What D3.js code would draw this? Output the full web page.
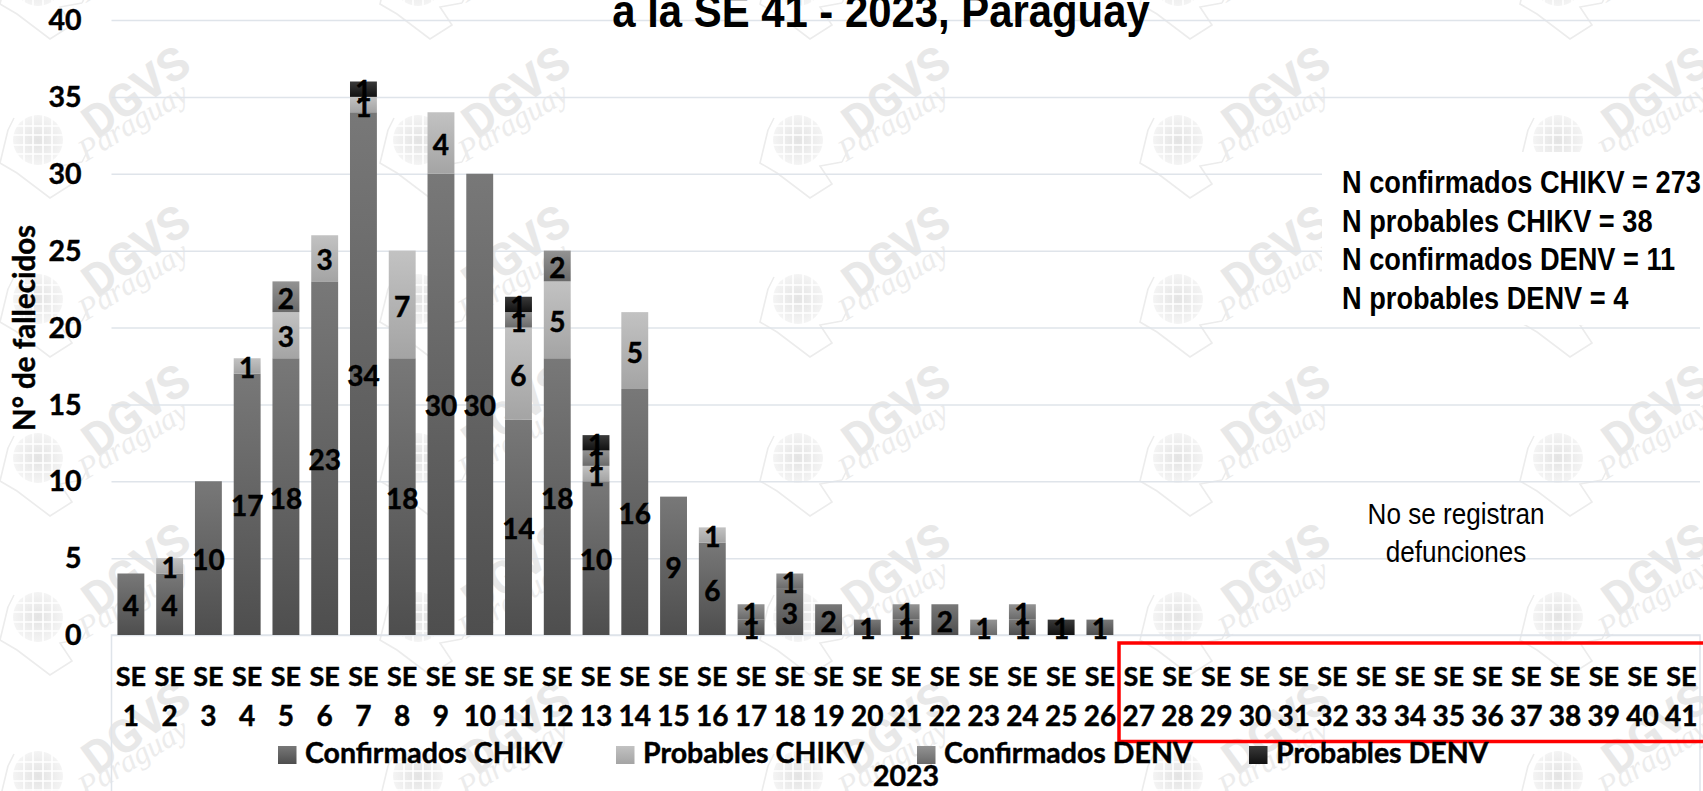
<!Doctype html>
<html>
<head>
  <meta charset="utf-8">
  <title>fallecidos CHIKV DENV</title>
  <script src="https://cdn.jsdelivr.net/npm/d3@7"></script>
  <style>
    html,body{ margin:0; padding:0; background:#fff; overflow:hidden; }
    svg{ display:block; }
    text{ font-family:Lato,sans-serif; font-weight:700; fill:#000; }
    .heavy{ stroke:#000; stroke-width:0.45px; }
    .narrow{ font-family:"Liberation Sans",sans-serif; }
    .domain{ display:none; }
  </style>
</head>
<body>
  <div id="container"></div>
<script>
  // values, SE 1 to SE 41
  var weeks = d3.range(1,42).map(function(d){ return String(d); });
  var confChikv = [4,4,10,17,18,23,34,18,30,30,14,18,10,16,9,6,1,3,2,1,1,2,0,1,0,1,0,0,0,0,0,0,0,0,0,0,0,0,0,0,0];
  var probChikv = [0,1,0,1,3,3,1,7,4,0,6,5,1,5,0,1,0,0,0,0,0,0,0,0,0,0,0,0,0,0,0,0,0,0,0,0,0,0,0,0,0];
  var confDenv  = [0,0,0,0,2,0,0,0,0,0,1,2,1,0,0,0,1,1,0,0,1,0,1,1,0,0,0,0,0,0,0,0,0,0,0,0,0,0,0,0,0];
  var probDenv  = [0,0,0,0,0,0,1,0,0,0,1,0,1,0,0,0,0,0,0,0,0,0,0,0,1,0,0,0,0,0,0,0,0,0,0,0,0,0,0,0,0];

  var seriesNames = ["Confirmados CHIKV","Probables CHIKV","Confirmados DENV","Probables DENV"];
  var seriesValues = [confChikv,probChikv,confDenv,probDenv];
  var seriesTop = ["#787878","#c2c2c2","#939393","#3a3a3a"];
  var seriesBottom = ["#4e4e4e","#a4a4a4","#6a6a6a","#111111"];
  var legendX = [278,616,917,1249];
  var yTicks = [0,5,10,15,20,25,30,35,40];
  var totals = ["N confirmados CHIKV = 273","N probables CHIKV = 38","N confirmados DENV = 11","N probables DENV = 4"];
  var totalsY = [193,232,270,309];

  var width = 1703, height = 791;

  var svg = d3.select("#container").append("svg")
      .attr("width", width)
      .attr("height", height);

  var defs = svg.append("defs");
  seriesNames.forEach(function(name,i){
    var g = defs.append("linearGradient").attr("id","grad"+i)
        .attr("x1",0).attr("y1",0).attr("x2",0).attr("y2",1);
    g.append("stop").attr("offset","0%").attr("stop-color",seriesTop[i]);
    g.append("stop").attr("offset","100%").attr("stop-color",seriesBottom[i]);
  });
  var globeGrad = defs.append("radialGradient").attr("id","globe");
  globeGrad.append("stop").attr("offset","0%").attr("stop-color","#e3e3e3");
  globeGrad.append("stop").attr("offset","100%").attr("stop-color","#f4f4f4");

  var xScale = d3.scaleBand().domain(weeks).range([111.5,1700.7]).paddingInner(0.306).paddingOuter(0.153);
  var yScale = d3.scaleLinear().domain([0,40]).range([635,20]);

  //----------------watermark
  var wm = svg.append("g").attr("id","watermark");
  d3.range(-1,5).forEach(function(row){
    d3.range(0,5).forEach(function(col){
      var t = wm.append("g").attr("transform","translate("+(col*380)+","+(row*159)+")");
      t.append("path")
        .attr("d","M8 130 L0 163 L17 173 L50 198 L72 184 L60 166 L82 162 M8 130 L14 118 M82 162 L88 150")
        .attr("fill","none").attr("stroke","#ececec").attr("stroke-width",1.6);
      t.append("circle").attr("cx",38).attr("cy",140).attr("r",25).attr("fill","url(#globe)");
      [-14,-5,5,14].forEach(function(o){
        t.append("line").attr("x1",13).attr("x2",63).attr("y1",140+o).attr("y2",140+o).attr("stroke","#fff").attr("stroke-width",1.6);
        t.append("line").attr("y1",115).attr("y2",165).attr("x1",38+o).attr("x2",38+o).attr("stroke","#fff").attr("stroke-width",1.6);
      });
      t.append("text").attr("transform","translate(97,140) rotate(-36)")
        .style("font-size","46px").style("font-family","Roboto,sans-serif").style("font-weight","700").style("fill","#e8e8e8")
        .text("DGVS");
      t.append("text").attr("transform","translate(86,162) rotate(-31)")
        .style("font-size","31px").style("font-family","'Liberation Serif',serif").style("font-style","italic").style("font-weight","400").style("fill","#ececec")
        .text("Paraguay");
    });
  });

  //----------------grid, y axis
  var yAxis = d3.axisLeft(yScale).tickValues(yTicks).tickSize(-(1700-111.5)).tickPadding(30);
  var YaxisGroup = svg.append("g").attr("class","y-ax").attr("transform","translate(111.5,0)").call(yAxis);
  YaxisGroup.selectAll(".tick line").attr("stroke","#dfe4ea").attr("stroke-width",1.5);
  YaxisGroup.selectAll(".tick text").attr("class","heavy").style("font-size","28.5px").attr("dy","0.34em");

  // box under the axis
  svg.append("path")
    .attr("d","M111.5 "+height+" V"+yScale(0)+" H1700 V"+height)
    .attr("fill","none").attr("stroke","#dfe4ea").attr("stroke-width",1.5);

  //----------------bars
  var table = weeks.map(function(w,i){
    var row = {week:w};
    seriesNames.forEach(function(n,s){ row[n] = seriesValues[s][i]; });
    return row;
  });
  var stacked = d3.stack().keys(seriesNames)(table);

  var group = svg.append("g").attr("id","graph");
  stacked.forEach(function(layer,s){
    group.append("g").selectAll("rect")
      .data(layer.filter(function(d){ return d[1]>d[0]; }))
      .enter().append("rect")
      .attr("x",function(d){ return xScale(d.data.week); })
      .attr("width",xScale.bandwidth())
      .attr("y",function(d){ return yScale(d[1]); })
      .attr("height",function(d){ return yScale(d[0])-yScale(d[1]); })
      .attr("fill","url(#grad"+s+")");
  });
  stacked.forEach(function(layer){
    group.append("g").selectAll("text")
      .data(layer.filter(function(d){ return d[1]>d[0]; }))
      .enter().append("text")
      .attr("class","heavy")
      .attr("x",function(d){ return xScale(d.data.week)+xScale.bandwidth()/2; })
      .attr("y",function(d){ return yScale((d[0]+d[1])/2)+2; })
      .attr("dy","0.36em")
      .attr("text-anchor","middle")
      .style("font-size","28px")
      .text(function(d){ return d[1]-d[0]; });
  });

  //----------------x axis, two lines per tick
  var xAxis = d3.axisBottom(xScale).tickSize(0).tickFormat("");
  var xGroup = svg.append("g").attr("class","x-ax").attr("transform","translate(0,"+yScale(0)+")").call(xAxis);
  xGroup.selectAll(".tick").each(function(d){
    var t = d3.select(this);
    t.select("text").remove();
    t.append("text").attr("class","heavy").attr("y",51).attr("text-anchor","middle").style("font-size","27px").text("SE");
    t.append("text").attr("class","heavy").attr("y",91).attr("text-anchor","middle").style("font-size","28px").text(d);
  });

  // red box on the weeks without deaths
  svg.append("rect").attr("x",1119).attr("y",643).attr("width",600).attr("height",98.5)
    .attr("fill","none").attr("stroke","#ff0000").attr("stroke-width",3.5);

  //----------------legend
  seriesNames.forEach(function(n,i){
    svg.append("rect").attr("x",legendX[i]).attr("y",746).attr("width",18.5).attr("height",18).attr("fill","url(#grad"+i+")");
    svg.append("text").attr("class","heavy").attr("x",legendX[i]+27).attr("y",763).style("font-size","28.5px").text(n);
  });
  svg.append("text").attr("class","heavy").attr("x",906).attr("y",786).attr("text-anchor","middle").style("font-size","28.5px").text("2023");

  svg.append("text").attr("class","heavy").attr("transform","translate(35,328) rotate(-90)")
    .attr("text-anchor","middle").style("font-size","29.5px").text("N° de fallecidos");

  //----------------title and notes, Liberation Sans squeezed to look narrow
  function narrowText(str,x,y,size,squeeze,anchor,weight){
    return svg.append("text").attr("class","narrow")
      .attr("transform","translate("+x+","+y+") scale("+squeeze+",1)")
      .attr("text-anchor",anchor)
      .style("font-size",size+"px")
      .style("font-weight",weight)
      .text(str);
  }
  narrowText("a la SE 41 - 2023, Paraguay",881,27,46,0.91,"middle",700);

  svg.append("rect").attr("x",1322).attr("y",152).attr("width",381).attr("height",173).attr("fill","#fff");
  totals.forEach(function(d,i){
    narrowText(d,1342,totalsY[i],32,0.85,"start",700);
  });

  narrowText("No se registran",1456,524,29,0.9,"middle",400);
  narrowText("defunciones",1456,562,29,0.9,"middle",400);
</script>
</body>
</html>
